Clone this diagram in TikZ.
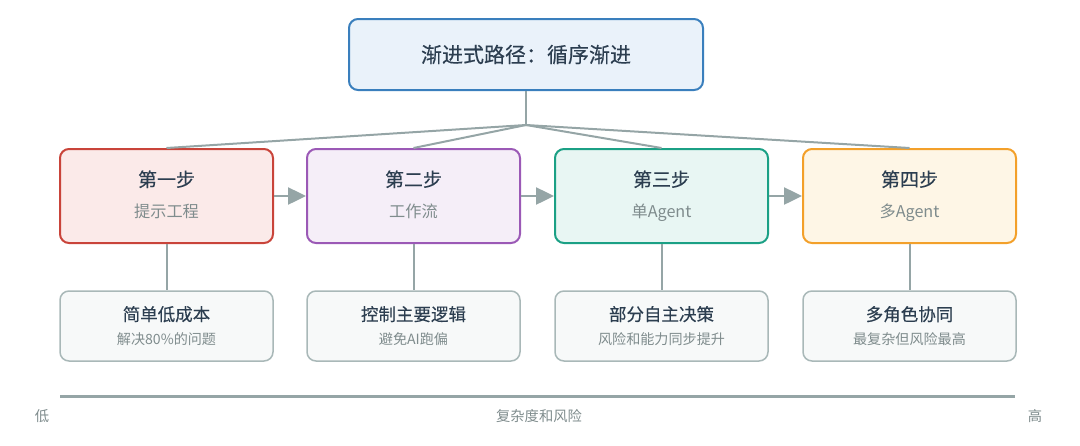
\documentclass[tikz,border=0pt]{standalone}
\usepackage{fontspec}
\setmainfont{Noto Sans CJK SC}
\newfontfamily\semifont{Noto Sans CJK SC}[FakeBold=0.2]
\usepackage{tikz}
\usetikzlibrary{positioning,arrows.meta}
\definecolor{TitleFill}{HTML}{EAF2FA}
\definecolor{TitleLine}{HTML}{3A7FBD}
\definecolor{RedLine}{HTML}{C9443A}
\definecolor{RedFill}{HTML}{FBEAE9}
\definecolor{PurpleLine}{HTML}{9B59B6}
\definecolor{PurpleFill}{HTML}{F5EEF8}
\definecolor{TealLine}{HTML}{1BA085}
\definecolor{TealFill}{HTML}{E8F6F3}
\definecolor{OrangeLine}{HTML}{F3A02A}
\definecolor{OrangeFill}{HTML}{FEF6E6}
\definecolor{NoteFill}{HTML}{F7F9F9}
\definecolor{NoteLine}{HTML}{A9B8B8}
\definecolor{Wire}{HTML}{95A5A6}
\definecolor{Ink}{HTML}{2C3E50}
\definecolor{SubInk}{HTML}{7F8C8D}

\begin{document}
\begin{tikzpicture}[x=1pt, y=-1pt,
  head/.style={draw=TitleLine, line width=2pt, rounded corners=9pt, fill=TitleFill, minimum width=354pt, minimum height=71pt, text=Ink, font=\semifont\fontsize{21}{25}\selectfont},
  stage/.style={line width=2pt, rounded corners=9pt, align=center, minimum width=213pt, minimum height=94pt, text=Ink, font=\semifont\fontsize{19}{23}\selectfont},
  note/.style={draw=NoteLine, fill=NoteFill, line width=1.5pt, rounded corners=9pt, align=center, minimum width=213pt, minimum height=70pt, text=Ink, font=\semifont\fontsize{17.5}{21}\selectfont},
  wire/.style={draw=Wire, line width=2pt},
  flow/.style={-{Triangle[length=18pt, width=17pt]}, draw=Wire, fill=Wire, line width=2.5pt},
  side/.style={text=SubInk, font=\fontsize{14.3}{17}\selectfont}]
\useasboundingbox (0,0) rectangle (1080,445);
\node[head] (title) at (526,54.5) {渐进式路径：循序渐进};
\coordinate (hub) at (526,125);
% four stages
\node[stage, draw=RedLine, fill=RedFill]       (s1) at (166.5,196) {第一步\\[8pt]{\normalfont\fontsize{16.2}{19}\selectfont\color{SubInk}提示工程\vphantom{Ag}}};
\node[stage, draw=PurpleLine, fill=PurpleFill] (s2) at (413.5,196) {第二步\\[8pt]{\normalfont\fontsize{16.2}{19}\selectfont\color{SubInk}工作流\vphantom{Ag}}};
\node[stage, draw=TealLine, fill=TealFill]     (s3) at (661.5,196) {第三步\\[8pt]{\normalfont\fontsize{16.2}{19}\selectfont\color{SubInk}单Agent}};
\node[stage, draw=OrangeLine, fill=OrangeFill] (s4) at (909.5,196) {第四步\\[8pt]{\normalfont\fontsize{16.2}{19}\selectfont\color{SubInk}多Agent}};
% notes
\node[note] (n1) at (166.5,326) {简单低成本\\[3pt]{\normalfont\fontsize{14.1}{17}\selectfont\color{SubInk}解决80\%的问题}};
\node[note] (n2) at (413.5,326) {控制主要逻辑\\[3pt]{\normalfont\fontsize{14.1}{17}\selectfont\color{SubInk}避免AI跑偏}};
\node[note] (n3) at (661.5,326) {部分自主决策\\[3pt]{\normalfont\fontsize{14.1}{17}\selectfont\color{SubInk}风险和能力同步提升}};
\node[note] (n4) at (909.5,326) {多角色协同\\[3pt]{\normalfont\fontsize{14.1}{17}\selectfont\color{SubInk}最复杂但风险最高}};
\draw[wire] (title.south) -- (hub);
\draw[wire] (hub) -- (s1.north);
\draw[wire] (hub) -- (s2.north);
\draw[wire] (hub) -- (s3.north);
\draw[wire] (hub) -- (s4.north);
\draw[flow] (s1) -- (s2);
\draw[flow] (s2) -- (s3);
\draw[flow] (s3) -- (s4);
\draw[wire] (s1) -- (n1);
\draw[wire] (s2) -- (n2);
\draw[wire] (s3) -- (n3);
\draw[wire] (s4) -- (n4);
% axis
\coordinate (lo) at (60,396);
\coordinate (hi) at (1015,396);
\draw[draw=Wire, line width=3pt] (lo) -- (hi);
\node[side] (low)  at (42,416)   {低};
\node[side] (mid)  at (539,416) {复杂度和风险};
\node[side] (high) at (1035,416) {高};
\end{tikzpicture}
\end{document}
